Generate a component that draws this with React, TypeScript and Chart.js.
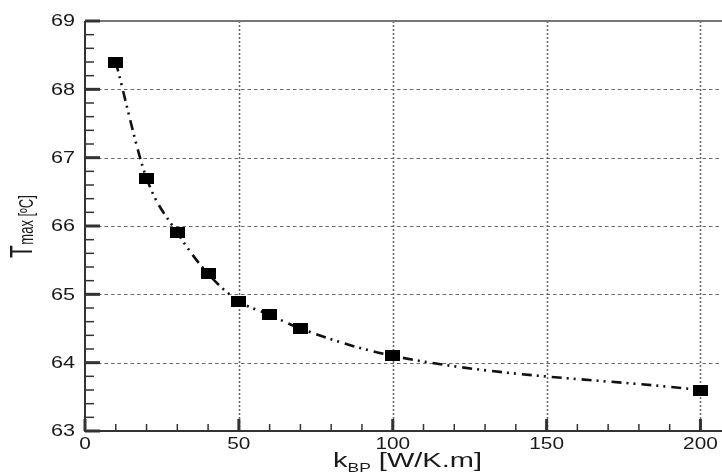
import React, { useEffect, useRef } from "react";
import { Chart, registerables } from "chart.js";

Chart.register(...registerables);

const kValues = [10, 20, 30, 40, 50, 60, 70, 100, 200];
const tMaxValues = [68.4, 66.7, 65.9, 65.3, 64.9, 64.7, 64.5, 64.1, 63.6];
const xTickValues = [0, 50, 100, 150, 200];
const yTickValues = [63, 64, 65, 66, 67, 68, 69];
const xMinorStep = 10;
const yMinorStep = 0.2;

const FONT = '"Liberation Sans", Arial, Helvetica, sans-serif';
const SX = 1.35;

function stretchedText(ctx: CanvasRenderingContext2D, text: string, x: number, y: number, size: number, align: "left" | "center" | "right", baseline: CanvasTextBaseline, sx = SX) {
  ctx.save();
  ctx.font = `${size}px ${FONT}`;
  ctx.textBaseline = baseline;
  ctx.textAlign = "left";
  const w = ctx.measureText(text).width * sx;
  let left = x;
  if (align === "center") left = x - w / 2;
  else if (align === "right") left = x - w;
  ctx.translate(left, y);
  ctx.scale(sx, 1);
  ctx.fillText(text, 0, 0);
  ctx.restore();
  return w;
}

const framePlugin = {
  id: "frame",
  beforeDatasetsDraw(chart: any) {
    const { ctx, chartArea: a, scales } = chart;
    const xs = scales.x, ys = scales.y;
    ctx.save();
    ctx.strokeStyle = "#6a6a6a";
    ctx.lineWidth = 1.2;
    ctx.setLineDash([3.5, 3]);
    yTickValues.forEach((v) => {
      if (v === 63 || v === 69) return;
      const py = Math.round(ys.getPixelForValue(v)) + 0.5;
      ctx.beginPath();
      ctx.moveTo(a.left, py);
      ctx.lineTo(a.right, py);
      ctx.stroke();
    });
    ctx.setLineDash([2, 2]);
    ctx.lineWidth = 1.6;
    xTickValues.forEach((v) => {
      if (v === 0) return;
      const px = Math.round(xs.getPixelForValue(v)) + 0.5;
      ctx.beginPath();
      ctx.moveTo(px, a.top);
      ctx.lineTo(px, a.bottom);
      ctx.stroke();
    });
    ctx.setLineDash([]);
    ctx.strokeStyle = "#777";
    ctx.lineWidth = 2;
    ctx.beginPath();
    ctx.moveTo(a.left, a.top);
    ctx.lineTo(a.right, a.top);
    ctx.stroke();
    ctx.restore();
  },
  afterDraw(chart: any) {
    const { ctx, chartArea: a, scales } = chart;
    const xs = scales.x, ys = scales.y;
    ctx.save();
    ctx.strokeStyle = "#333";
    ctx.lineWidth = 2;
    ctx.beginPath();
    ctx.moveTo(a.left, a.top);
    ctx.lineTo(a.left, a.bottom);
    ctx.lineTo(a.right, a.bottom);
    ctx.stroke();
    ctx.lineWidth = 1.5;
    for (let v = 63; v <= 69.0001; v += yMinorStep) {
      const py = ys.getPixelForValue(v);
      ctx.beginPath();
      ctx.moveTo(a.left, py);
      ctx.lineTo(a.left + 9, py);
      ctx.stroke();
    }
    for (let v = 0; v <= 207; v += xMinorStep) {
      const px = xs.getPixelForValue(v);
      ctx.beginPath();
      ctx.moveTo(px, a.bottom);
      ctx.lineTo(px, a.bottom - 7);
      ctx.stroke();
    }
    ctx.lineWidth = 3;
    yTickValues.forEach((v) => {
      const py = ys.getPixelForValue(v);
      ctx.beginPath();
      ctx.moveTo(a.left, py);
      ctx.lineTo(a.left + 15, py);
      ctx.stroke();
    });
    xTickValues.forEach((v) => {
      const px = xs.getPixelForValue(v);
      ctx.beginPath();
      ctx.moveTo(px, a.bottom);
      ctx.lineTo(px, a.bottom - 12);
      ctx.stroke();
    });
    ctx.fillStyle = "#1a1a1a";
    yTickValues.forEach((v) => {
      const py = ys.getPixelForValue(v);
      stretchedText(ctx, String(v), a.left - 10, py + 1, 16, "right", "middle");
    });
    xTickValues.forEach((v) => {
      const px = xs.getPixelForValue(v);
      stretchedText(ctx, String(v), px, a.bottom + 17.5, 16, "center", "alphabetic", 1.3);
    });
    const big = 20, small = 12, tsx = 1.45;
    ctx.font = `${big}px ${FONT}`;
    const wK = ctx.measureText("k").width * tsx;
    ctx.font = `${small}px ${FONT}`;
    const wSub = ctx.measureText("BP").width * tsx;
    ctx.font = `${big}px ${FONT}`;
    const wRest = ctx.measureText(" [W/K.m]").width * tsx;
    const total = wK + wSub + wRest;
    let sx0 = (a.left + a.right) / 2 + 4 - total / 2;
    const by = 467;
    stretchedText(ctx, "k", sx0, by, big, "left", "alphabetic", tsx);
    sx0 += wK;
    stretchedText(ctx, "BP", sx0, by + 5, small, "left", "alphabetic", tsx);
    sx0 += wSub;
    stretchedText(ctx, " [W/K.m]", sx0, by, big, "left", "alphabetic", tsx);
    ctx.save();
    ctx.translate(32, 258);
    ctx.rotate(-Math.PI / 2);
    ctx.scale(1, 1.5);
    ctx.textAlign = "left";
    ctx.textBaseline = "alphabetic";
    ctx.font = `21px ${FONT}`;
    ctx.fillText("T", 0, 0);
    const wT = ctx.measureText("T").width;
    ctx.font = `13px ${FONT}`;
    ctx.fillText("max [ºC]", wT + 0.5, 0.8);
    ctx.restore();
    ctx.restore();
  },
};

export default function App() {
  const ref = useRef<HTMLCanvasElement | null>(null);
  useEffect(() => {
    if (!ref.current) return;
    const marker = document.createElement("canvas");
    marker.width = 15;
    marker.height = 11;
    const mctx = marker.getContext("2d")!;
    mctx.fillStyle = "#000";
    mctx.fillRect(0, 0, 15, 11);

    const chart = new Chart(ref.current, {
      type: "line",
      data: {
        datasets: [
          {
            data: kValues.map((k, i) => ({ x: k, y: tMaxValues[i] })),
            borderColor: "#111",
            borderWidth: 2.6,
            borderDash: [10, 5, 2, 5, 2, 6],
            cubicInterpolationMode: "monotone",
            pointStyle: marker as any,
            pointRadius: 7,
            pointHoverRadius: 7,
            backgroundColor: "#000",
            fill: false,
          },
        ],
      },
      options: {
        animation: false,
        responsive: false,
        events: [],
        layout: { padding: { top: 21, right: 0, left: 0, bottom: 0 }, autoPadding: false },
        plugins: { legend: { display: false }, tooltip: { enabled: false }, title: { display: false } },
        scales: {
          x: {
            type: "linear",
            min: 0,
            max: 207,
            grid: { display: false },
            border: { display: false },
            ticks: { display: false },
            afterFit: (s: any) => { s.height = 41; },
          },
          y: {
            type: "linear",
            min: 63,
            max: 69,
            grid: { display: false },
            border: { display: false },
            ticks: { display: false },
            afterFit: (s: any) => { s.width = 85; },
          },
        },
      } as any,
      plugins: [framePlugin],
    });
    return () => chart.destroy();
  }, []);
  return (
    <div style={{ position: "fixed", left: 0, top: 0, width: 722, height: 472, background: "#fff" }}>
      <canvas ref={ref} width={722} height={472} style={{ display: "block", width: 722, height: 472 }} />
    </div>
  );
}
